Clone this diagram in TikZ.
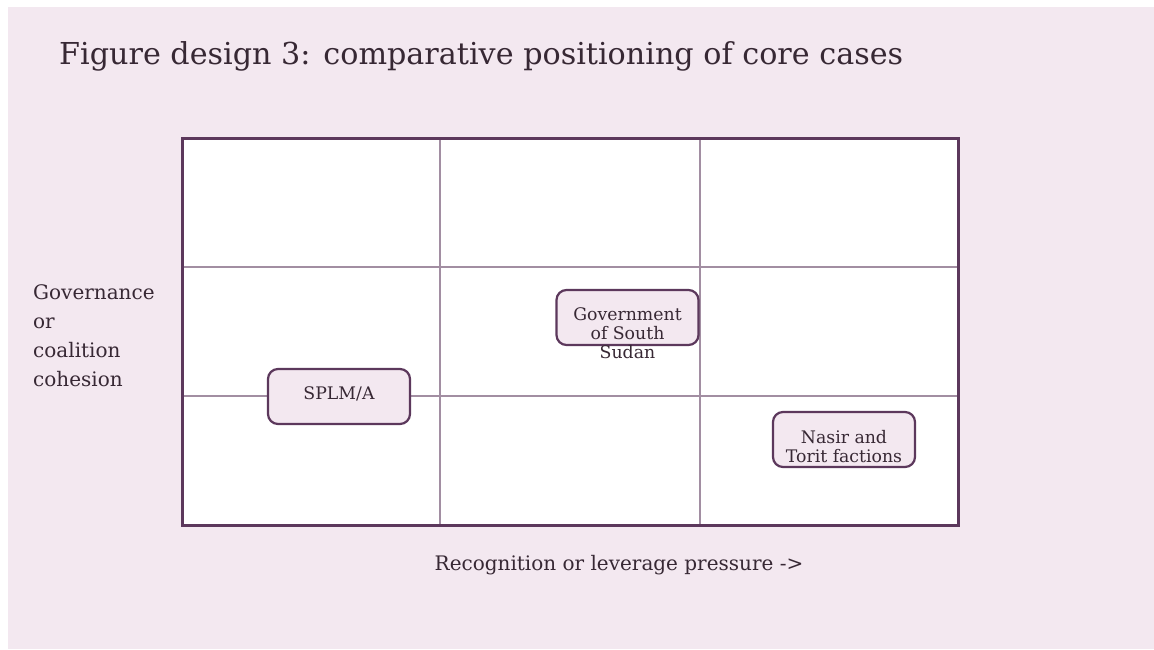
\documentclass[tikz,border=0pt]{standalone}
\usepackage{fontspec}
\setmainfont{DejaVu Serif}
\definecolor{bgpink}{RGB}{243,232,240}
\definecolor{framec}{RGB}{92,56,92}
\definecolor{gridc}{RGB}{162,142,162}
\definecolor{textc}{RGB}{55,40,52}
\tikzset{
  casebox/.style={draw=framec, line width=2.2pt, fill=bgpink, rounded corners=10pt,
    minimum width=142pt, minimum height=55pt, inner sep=0pt},
  casetext/.style={text=textc, inner sep=0pt, align=center, anchor=north,
    font=\fontsize{17.3}{18.8}\selectfont},
  gridline/.style={draw=gridc, line width=1.8pt},
  lbl/.style={text=textc, inner sep=0pt}
}
\begin{document}
\begin{tikzpicture}[x=1pt,y=-1pt]
\useasboundingbox (0,0) rectangle (1154,649);
\fill[white] (0,0) rectangle (1154,649);
\fill[bgpink] (8,7) rectangle (1154,649);
% title
\node[lbl, anchor=base west, font=\fontsize{30.2}{34}\selectfont] (title) at (59,64) {Figure design 3: comparative positioning of core cases};
% plot area
\coordinate (tl) at (182,138);
\coordinate (br) at (958,525);
\fill[white] (tl) rectangle (br);
\coordinate (v1t) at (440,138); \coordinate (v1b) at (440,525);
\coordinate (v2t) at (700,138); \coordinate (v2b) at (700,525);
\coordinate (h1l) at (182,267); \coordinate (h1r) at (958,267);
\coordinate (h2l) at (182,396); \coordinate (h2r) at (958,396);
\draw[gridline] (v1t) -- (v1b);
\draw[gridline] (v2t) -- (v2b);
\draw[gridline] (h1l) -- (h1r);
\draw[gridline] (h2l) -- (h2r);
\draw[framec, line width=3pt] (tl) rectangle (br);
% cases
\node[casebox] (gov) at (627.5,317.5) {};
\node[casetext] (govtext) at (627.5,307.5) {Government\\of South\\Sudan};
\node[casebox] (splm) at (339,396.5) {};
\node[casetext] (splmtext) at (339,386.5) {SPLM/A};
\node[casebox] (nasir) at (844,439.5) {};
\node[casetext] (nasirtext) at (844,430) {Nasir and\\Torit factions};
% axis labels
\node[lbl, anchor=base west, align=left, font=\fontsize{20}{29}\selectfont] (ylab) at (33,386) {Governance\\or\\coalition\\cohesion};
\node[lbl, anchor=base, font=\fontsize{20}{24}\selectfont] (xlab) at (619,570) {Recognition or leverage pressure ->};
\end{tikzpicture}
\end{document}
